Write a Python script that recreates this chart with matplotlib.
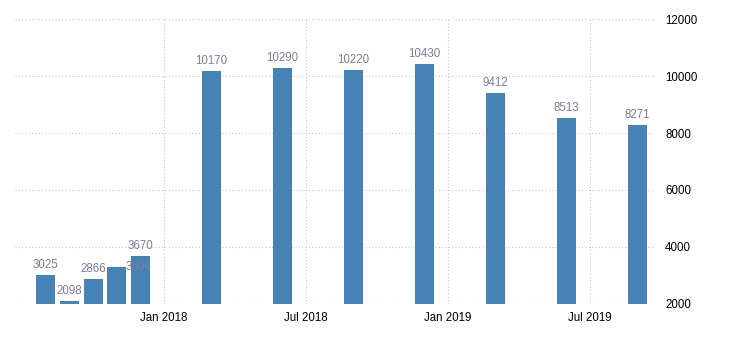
import matplotlib.pyplot as plt
from matplotlib import font_manager

# months counted from Jan 2018 (0 = Jan 2018)
months = [-5, -4, -3, -2, -1, 2, 5, 8, 11, 14, 17, 20]
values = [3025, 2098, 2866, 3304, 3670, 10170, 10290, 10220, 10430, 9412, 8513, 8271]
tick_pos = [0, 6, 12, 18]
tick_labels = ['Jan 2018', 'Jul 2018', 'Jan 2019', 'Jul 2019']
yticks = [2000, 4000, 6000, 8000, 10000, 12000]

names = {f.name for f in font_manager.fontManager.ttflist}
if 'Liberation Sans Narrow' in names:
    plt.rcParams['font.family'] = ['Liberation Sans Narrow', 'DejaVu Sans']
    fs = 9.5
else:
    plt.rcParams['font.family'] = ['Liberation Sans', 'DejaVu Sans']
    fs = 8.3

fig = plt.figure(figsize=(7.3, 3.4), dpi=100)
ax = fig.add_axes([0.0205, 0.106, 0.8755, 0.838])

ax.bar(months, values, width=0.8, color='#4682b4', zorder=2)

for m, v in zip(months, values):
    if v == 3304:
        # label got pushed aside in the original
        ax.text(m + 0.9, v, str(v), ha='center', va='center', fontsize=fs, color='#7d7d98', zorder=3)
    else:
        ax.annotate(str(v), (m, v), xytext=(0, 3), textcoords='offset points',
                    ha='center', va='bottom', fontsize=fs, color='#7d7d98', zorder=3)

ax.set_xlim(-6.3, 20.7)
ax.set_ylim(2000, 12000)
ax.set_xticks(tick_pos)
ax.set_xticklabels(tick_labels)
ax.set_yticks(yticks)
ax.yaxis.tick_right()
ax.tick_params(axis='both', length=0, labelsize=fs, colors='black')
ax.tick_params(axis='y', pad=8)
ax.tick_params(axis='x', pad=6)

ax.grid(True, color='#c8c8c8', linestyle=(0, (1, 2)), linewidth=0.8, zorder=0)
for s in ax.spines.values():
    s.set_visible(False)

fig.savefig('out.png', dpi=100)
